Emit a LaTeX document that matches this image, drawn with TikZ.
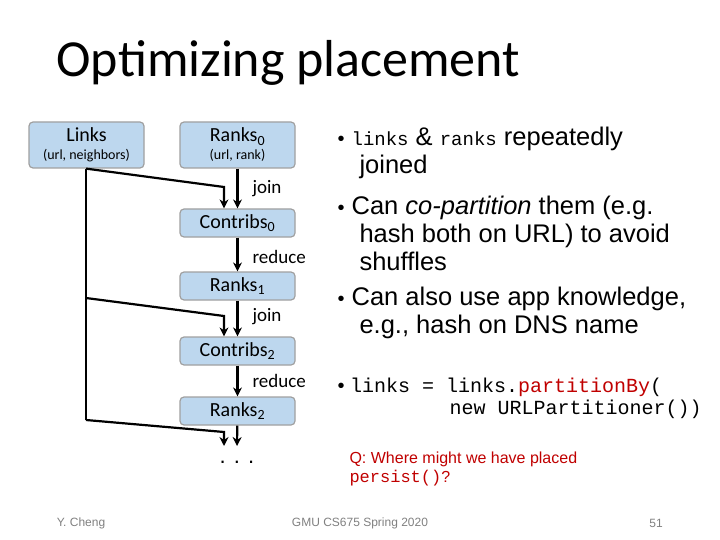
\documentclass[tikz,border=0pt]{standalone}
\usepackage{fontspec}
\setmainfont{Liberation Sans}
\newfontfamily\calib{Carlito}
\setmonofont{Liberation Mono}
\usetikzlibrary{arrows.meta,positioning}
\definecolor{boxfill}{RGB}{189,215,238}
\definecolor{boxline}{RGB}{160,160,160}
\definecolor{qred}{RGB}{192,0,0}
\tikzset{
  rdd/.style={draw=boxline, fill=boxfill, rounded corners=4pt, line width=1.2pt,
    minimum width=115pt, align=center, font=\calib\fontsize{20}{20}\selectfont, inner sep=2pt},
  flow/.style={line width=2.2pt, -{Stealth[length=9pt,width=9pt]}},
  oplbl/.style={font=\calib\fontsize{19}{20}\selectfont, anchor=west},
  txt/.style={anchor=west, align=left, font=\fontsize{25.5}{28}\selectfont},
}
\begin{document}
\begin{tikzpicture}[x=1pt,y=-1pt]
  \useasboundingbox (0,0) rectangle (720,540);
  \node[anchor=west, font=\calib\fontsize{52}{53}\selectfont] (title) at (53,63) {Optimizing placement};

  % boxes
  \node[rdd, minimum height=46pt] (links) at (86.5,145) {Links\\[-2pt]{\fontsize{14}{15}\selectfont(url, neighbors)}};
  \node[rdd, minimum height=46pt] (rk0) at (237.5,145) {Ranks\textsubscript{0}\\[-2pt]{\fontsize{14}{15}\selectfont(url, rank)}};
  \node[rdd, minimum height=28pt] (ct0) at (237.5,223) {Contribs\textsubscript{0}};
  \node[rdd, minimum height=28pt] (rk1) at (237.5,286) {Ranks\textsubscript{1}};
  \node[rdd, minimum height=28pt] (ct2) at (237.5,351) {Contribs\textsubscript{2}};
  \node[rdd, minimum height=28pt] (rk2) at (237.5,411) {Ranks\textsubscript{2}};
  \node[font=\fontsize{22}{22}\selectfont] (dots) at (237,462) {. . .};

  % flows
  \draw[flow] (rk0) -- (ct0);
  \draw[flow] (ct0) -- (rk1);
  \draw[flow] (rk1) -- (ct2);
  \draw[flow] (ct2) -- (rk2);
  \draw[flow] (rk2) -- (237,446);
  \coordinate (l1) at (86,180);
  \coordinate (l2) at (86,298);
  \coordinate (l3) at (86,420);
  \draw[line width=2.2pt] (links.south -| l1) -- (l3);
  \draw[flow] (links.south -| l1) -- (224,187) -- (ct0.north -| 224,0);
  \draw[flow] (l2) -- (224,316) -- (ct2.north -| 224,0);
  \draw[flow] (l3) -- (224,432) -- (224,446);
  \node[oplbl] (j0) at (249,189) {join};
  \node[oplbl] (r0) at (249,257) {reduce};
  \node[oplbl] (j1) at (249,317) {join};
  \node[oplbl] (r1) at (249,381) {reduce};

  % text
  \node[txt] (b1) at (334,153) {{\fontsize{20}{16}\selectfont\textbullet}\ \texttt{\fontsize{19}{20}\selectfont links} \& \texttt{\fontsize{19}{20}\selectfont ranks} repeatedly\\\hspace*{22pt}joined};
  \node[txt] (b2) at (334,233) {{\fontsize{20}{16}\selectfont\textbullet}\ Can \textit{co-partition} them (e.g.\\\hspace*{22pt}hash both on URL) to avoid\\\hspace*{22pt}shuffles};
  \node[txt] (b3) at (334,313) {{\fontsize{20}{16}\selectfont\textbullet}\ Can also use app knowledge,\\\hspace*{22pt}e.g., hash on DNS name};
  \node[txt, font=\fontsize{20}{22}\selectfont] (b4) at (334,398) {{\fontsize{20}{16}\selectfont\textbullet}\ \texttt{links = links.\textcolor{qred}{partition}\textcolor{qred}{By}(}\\\hspace*{112pt}\texttt{new URLPartitioner())}};
  \node[anchor=west, align=left, text=qred, font=\fontsize{16}{19}\selectfont] (q) at (346,469) {Q: Where might we have placed\\\texttt{\fontsize{17}{19}\selectfont persist()}?};

  % footer
  \node[font=\fontsize{12}{12}\selectfont, text=gray] (auth) at (81,523) {Y. Cheng};
  \node[font=\fontsize{12}{12}\selectfont, text=gray] (crs) at (360,523) {GMU CS675 Spring 2020};
  \node[font=\fontsize{12}{12}\selectfont, text=gray] (pg) at (656,523) {51};
\end{tikzpicture}
\end{document}
